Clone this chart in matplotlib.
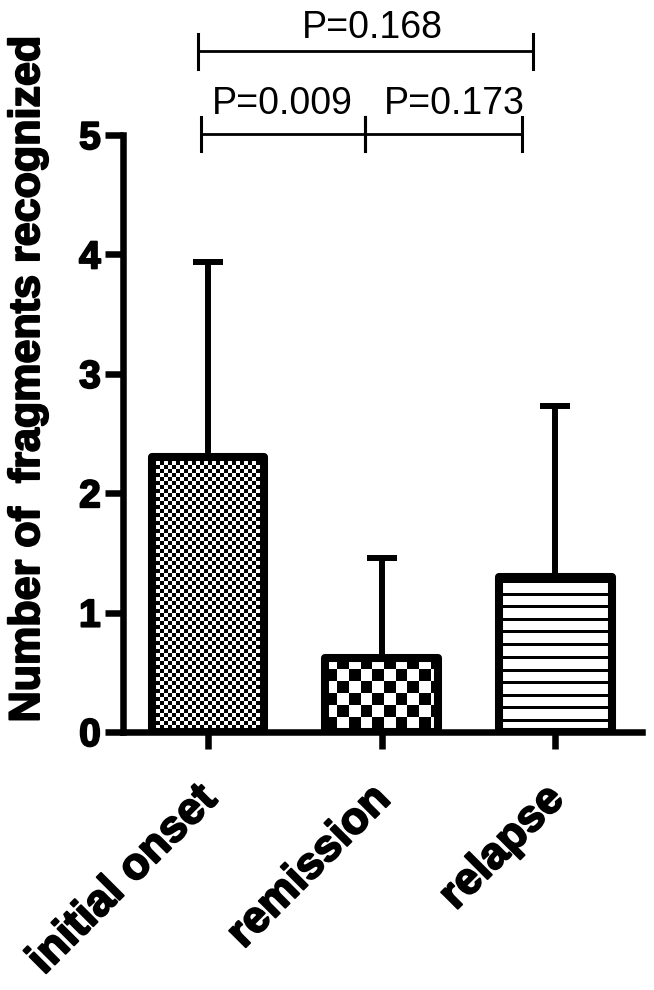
import numpy as np
import matplotlib.pyplot as plt
import matplotlib.patheffects as pe
from matplotlib.transforms import ScaledTranslation

# data (mean and upper SD)
groups = ['initial onset', 'remission', 'relapse']
means = [2.30, 0.62, 1.30]
sds = [1.64, 0.84, 1.43]
p_labels = ['P=0.009', 'P=0.173', 'P=0.168']

# bar fills: fine checks, coarse checks, horizontal stripes
fills = ['fine', 'coarse', 'stripes']

# bracket layout (hand placed in the original, x in group units)
bracket_span = [(-0.04, 0.905), (0.905, 1.81), (-0.06, 1.87)]
bracket_level = [5.01, 5.01, 5.70]
bracket_tick = [0.14, 0.14, 0.145]
text_x = [0.43, 1.42, 0.945]
text_pad = [14, 14, 10]

W, H, DPI = 654, 990, 100
plt.rcParams['font.family'] = ['Liberation Sans', 'DejaVu Sans']
plt.rcParams['font.weight'] = 'bold'
heavy = [pe.withStroke(linewidth=1.4, foreground='black')]

fig = plt.figure(figsize=(W / DPI, H / DPI), dpi=DPI)
ax = fig.add_axes([123 / W, 1 - 732 / H, (642 - 123) / W, (732 - 135) / H])
x = np.arange(len(groups))

bars = ax.bar(x, means, width=0.65, facecolor='none', edgecolor='black',
              linewidth=5.8, joinstyle='round', zorder=3)
ax.errorbar(x, means, yerr=[np.zeros(len(means)), sds], fmt='none',
            ecolor='black', elinewidth=4.3, capsize=11, capthick=4.3, zorder=1)
ax.set_xlim(-0.49, 2.50)
ax.set_ylim(0, 5)


def texture(bar, kind):
    # paint a pixel pattern inside the bar, clipped to its outline
    bx, bw, bh = bar.get_x(), bar.get_width(), bar.get_height()
    x0, y0 = ax.transData.transform((bx, 0))
    x1, y1 = ax.transData.transform((bx + bw, bh))
    nx, ny = int(round(x1 - x0)), int(round(y1 - y0))
    j, i = np.meshgrid(np.arange(nx), np.arange(ny))
    if kind == 'fine':
        img = ((i // 4) + (j // 4)) % 2
    elif kind == 'coarse':
        img = ((i // 11.7).astype(int) + (j // 11.7).astype(int)) % 2
    else:
        img = ((i - 4) % 12.5 < 3).astype(int)
    im = ax.imshow(img, extent=(bx, bx + bw, 0, bh), origin='upper',
                   cmap='gray_r', vmin=0, vmax=1, interpolation='nearest',
                   aspect='auto', zorder=2)
    im.set_clip_path(bar)


for bar, kind in zip(bars, fills):
    texture(bar, kind)

ax.set_xlim(-0.49, 2.50)
ax.set_ylim(0, 5)

for side in ['top', 'right']:
    ax.spines[side].set_visible(False)
for side in ['left', 'bottom']:
    ax.spines[side].set_linewidth(4.7)

ax.set_yticks(range(6))
ax.set_xticks(x, groups, rotation=45, ha='right', rotation_mode='anchor')
ax.tick_params(axis='y', length=13, width=4.7, labelsize=28, pad=3)
ax.tick_params(axis='x', length=12, width=4.7, labelsize=32, pad=14)
shift = ScaledTranslation(-12 / DPI, -10 / DPI, fig.dpi_scale_trans)
for lab in ax.get_xticklabels():
    lab.set_transform(lab.get_transform() + shift)
for lab in ax.get_xticklabels() + ax.get_yticklabels():
    lab.set_path_effects(heavy)

fig.text(28 / W, 1 - 380 / H, 'Number of  fragments recognized',
         rotation=90, ha='center', va='center', fontsize=31,
         fontweight='bold', path_effects=heavy)

# significance brackets
for (a, b), lev, tk, tx, pad, lab in zip(bracket_span, bracket_level,
                                          bracket_tick, text_x, text_pad,
                                          p_labels):
    ax.plot([a, b], [lev, lev], color='black', lw=2, clip_on=False)
    for e in (a, b):
        ax.plot([e, e], [lev - tk, lev + tk], color='black', lw=2.2,
                clip_on=False)
    ax.annotate(lab, (tx, lev), xytext=(0, pad), textcoords='offset points',
                ha='center', va='baseline', fontsize=27, fontweight='normal',
                annotation_clip=False)

fig.savefig('out.png', dpi=DPI)
